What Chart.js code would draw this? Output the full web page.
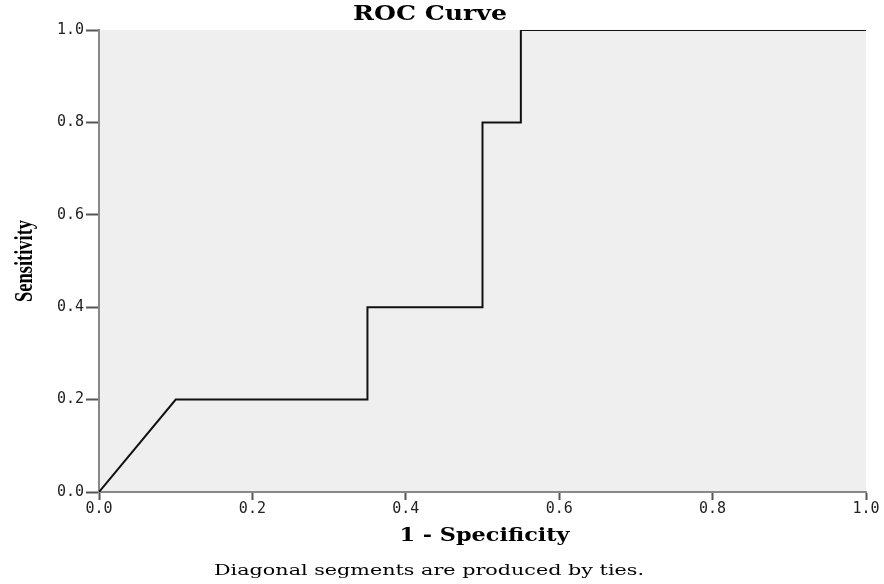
<!DOCTYPE html>
<html>
<head>
<meta charset="utf-8">
<script src="https://cdn.jsdelivr.net/npm/chart.js@4/dist/chart.umd.min.js"></script>
<style>
  body { margin: 0; background: #fff; }
  canvas { display: block; }
</style>
</head>
<body>
<canvas id="roc" width="884" height="584"></canvas>
<script>
// ROC curve points: 1 - specificity (x) and sensitivity (y)
const falsePosRate = [0, 0.1, 0.35, 0.35, 0.5, 0.5, 0.55, 0.55, 1.0];
const sensitivity  = [0, 0.2, 0.2, 0.4, 0.4, 0.8, 0.8, 1.0, 1.0];
const axisTicks = [0.0, 0.2, 0.4, 0.6, 0.8, 1.0];

const titulo = "ROC Curve";
const tituloX = "1 - Specificity";
const tituloY = "Sensitivity";
const nota = "Diagonal segments are produced by ties.";

const puntos = falsePosRate.map((x, i) => ({ x: x, y: sensitivity[i] }));

// texto escalado horizontalmente hasta un ancho dado
function textoAncho(ctx, texto, cx, cy, font, ancho, rot) {
    ctx.save();
    ctx.font = font;
    ctx.fillStyle = "#000";
    ctx.textAlign = "center";
    ctx.textBaseline = "middle";
    const w = ctx.measureText(texto).width;
    ctx.translate(cx, cy);
    if (rot) ctx.rotate(rot);
    ctx.scale(ancho / w, 1);
    ctx.fillText(texto, 0, 0);
    ctx.restore();
}

const fondoPlugin = {
    id: "fondo",
    beforeDraw(chart) {
        const { ctx, chartArea } = chart;
        ctx.save();
        ctx.fillStyle = "#fff";
        ctx.fillRect(0, 0, chart.width, chart.height);
        ctx.fillStyle = "#efefef";
        ctx.fillRect(chartArea.left, chartArea.top,
            chartArea.right - chartArea.left, chartArea.bottom - chartArea.top);
        ctx.restore();
    },
    afterDraw(chart) {
        const { ctx, chartArea } = chart;
        const midX = (chartArea.left + chartArea.right) / 2;
        const midY = (chartArea.top + chartArea.bottom) / 2;
        textoAncho(ctx, titulo, 430, 15, "bold 20px 'DejaVu Serif'", 154);
        textoAncho(ctx, tituloX, midX + 2, 536, "bold 19px 'DejaVu Serif'", 170);
        textoAncho(ctx, nota, 429, 571, "15px 'DejaVu Serif'", 430);
        textoAncho(ctx, tituloY, 25, midY, "bold 26px 'Liberation Serif'", 82, -Math.PI / 2);
    }
};

const fuenteTicks = { family: "'DejaVu Sans Mono'", size: 15 };

new Chart(document.getElementById("roc").getContext("2d"), {
    type: "scatter",
    data: {
        datasets: [{
            data: puntos,
            showLine: true,
            borderColor: "#111",
            borderWidth: 2,
            pointRadius: 0,
            pointHoverRadius: 0,
            tension: 0,
        }]
    },
    options: {
        responsive: false,
        animation: false,
        layout: { padding: { top: 30, right: 18, left: 0, bottom: 0 } },
        plugins: {
            legend: { display: false },
            tooltip: { enabled: false },
        },
        scales: {
            x: {
                type: "linear",
                min: 0,
                max: 1,
                afterFit: s => { s.height = 92; },
                afterBuildTicks: s => { s.ticks = axisTicks.map(v => ({ value: v })); },
                grid: { drawOnChartArea: false, tickLength: 8, tickColor: "#555", tickWidth: 2 },
                border: { color: "#888", width: 2 },
                ticks: {
                    padding: 0,
                    color: "#222",
                    font: fuenteTicks,
                    maxRotation: 0,
                    callback: v => v.toFixed(1),
                },
            },
            y: {
                type: "linear",
                min: 0,
                max: 1,
                afterFit: s => { s.width = 99; },
                afterBuildTicks: s => { s.ticks = axisTicks.map(v => ({ value: v })); },
                grid: { drawOnChartArea: false, tickLength: 13, tickColor: "#555", tickWidth: 2 },
                border: { color: "#888", width: 2 },
                ticks: {
                    padding: 2,
                    color: "#222",
                    font: fuenteTicks,
                    callback: v => v.toFixed(1),
                },
            },
        },
    },
    plugins: [fondoPlugin],
});
</script>
</body>
</html>
